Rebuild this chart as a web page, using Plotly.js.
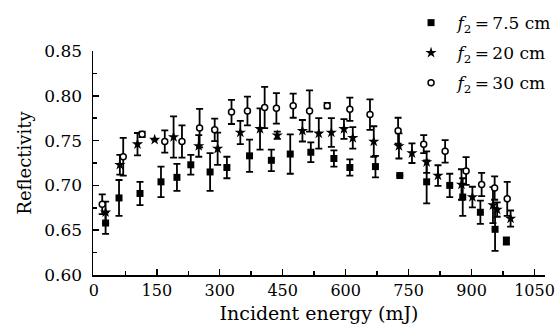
<!DOCTYPE html>
<html>
<head>
<meta charset="utf-8">
<script src="https://cdn.plot.ly/plotly-3.0.1.min.js"></script>
<style>html,body{margin:0;padding:0;background:#fff;}#chart{width:555px;height:333px;}</style>
</head>
<body>
<div id="chart"></div>
<script>
// Series 1: f2 = 7.5 cm (filled squares)
var energy75 = [28, 60, 110, 160, 198, 231, 277, 317, 371, 423, 468, 517, 572, 610, 671, 729, 793, 848, 879, 921, 956, 983];
var refl75   = [0.658, 0.686, 0.691, 0.704, 0.709, 0.723, 0.715, 0.720, 0.733, 0.728, 0.735, 0.737, 0.730, 0.720, 0.721, 0.711, 0.704, 0.700, 0.687, 0.670, 0.651, 0.638];
var err75    = [0.012, 0.020, 0.013, 0.017, 0.015, 0.011, 0.021, 0.012, 0.018, 0.012, 0.022, 0.011, 0.009, 0.009, 0.012, 0, 0.024, 0.013, 0.021, 0.013, 0.024, 0.004];

// Series 2: f2 = 20 cm (stars)
var energy20 = [28, 62, 104, 145, 190, 250, 295, 349, 396, 437, 497, 536, 566, 596, 617, 667, 727, 758, 793, 820, 876, 902, 951, 961, 993];
var refl20   = [0.670, 0.723, 0.746, 0.751, 0.754, 0.744, 0.741, 0.759, 0.763, 0.756, 0.761, 0.758, 0.759, 0.763, 0.753, 0.749, 0.744, 0.736, 0.726, 0.711, 0.701, 0.687, 0.678, 0.673, 0.663];
var err20    = [0.012, 0.011, 0.0125, 0, 0.023, 0.012, 0.018, 0.013, 0.023, 0.004, 0.012, 0.017, 0.016, 0.011, 0.012, 0.017, 0.014, 0.011, 0.012, 0.0115, 0.017, 0.0115, 0.02, 0.008, 0.009];

// Series 3: f2 = 30 cm (open circles)
var energy30 = [20, 70, 115, 169, 210, 252, 288, 328, 366, 407, 435, 475, 514, 556, 610, 658, 725, 786, 837, 887, 924, 955, 985];
var refl30   = [0.679, 0.732, 0.757, 0.749, 0.749, 0.764, 0.762, 0.782, 0.783, 0.787, 0.786, 0.789, 0.783, 0.789, 0.785, 0.779, 0.761, 0.746, 0.738, 0.716, 0.701, 0.697, 0.685];
var err30    = [0.011, 0.021, 0.003, 0.0125, 0.018, 0.0215, 0.0125, 0.0135, 0.016, 0.023, 0.017, 0.0135, 0.023, 0.003, 0.013, 0.017, 0.0145, 0.01, 0.0125, 0.0155, 0.013, 0.013, 0.019];

var seriesNames = ['\u2009<i>f</i><sub>2</sub>\u2009=\u20097.5 cm', '\u2009<i>f</i><sub>2</sub>\u2009=\u200920 cm', '\u2009<i>f</i><sub>2</sub>\u2009=\u200930 cm'];

var xTickVals = [0, 150, 300, 450, 600, 750, 900, 1050];
var yTickVals = [0.60, 0.65, 0.70, 0.75, 0.80, 0.85];

function errBar(arr) {
  return {type: 'data', array: arr, visible: true, color: '#000', thickness: 1.8, width: 3.5};
}

var traces = [
  {x: energy75, y: refl75, error_y: errBar(err75), type: 'scatter', mode: 'markers', name: seriesNames[0], legendgroup: 'a',
   marker: {symbol: 'square', size: 7, color: '#000'}},
  {x: energy20, y: refl20, error_y: errBar(err20), type: 'scatter', mode: 'markers', name: seriesNames[1], legendgroup: 'b',
   marker: {symbol: 'star', size: 8.5, color: '#000'}},
  {x: energy30, y: refl30, error_y: errBar(err30), type: 'scatter', mode: 'markers', name: seriesNames[2], legendgroup: 'c',
   marker: {symbol: 'circle', size: 6, color: '#fff', line: {color: '#000', width: 1.5}}}
];

var fontFam = 'DejaVu Serif, Liberation Serif, serif';

var layout = {
  width: 555, height: 333,
  margin: {l: 93, r: 10, t: 51, b: 58, autoexpand: false},
  paper_bgcolor: '#fff', plot_bgcolor: '#fff',
  font: {family: fontFam, size: 17, color: '#000'},
  showlegend: true,
  legend: {x: 0.697, y: 1.205, xanchor: 'left', yanchor: 'top', bgcolor: 'rgba(0,0,0,0)', borderwidth: 0,
           font: {family: fontFam, size: 17, color: '#000'}, tracegroupgap: 5, itemwidth: 36},
  xaxis: {
    range: [-2, 1075], showgrid: false, zeroline: false, showline: true, linecolor: '#000', linewidth: 1.5,
    tickmode: 'array', tickvals: xTickVals, ticks: 'inside', ticklen: 6, tickwidth: 1.5, tickcolor: '#000',
    ticklabeloverflow: 'allow',
    minor: {dtick: 75, tick0: 0, ticks: 'inside', ticklen: 4, tickwidth: 1.5, tickcolor: '#000'},
    tickfont: {family: fontFam, size: 16},
    title: {text: '\u00a0\u00a0\u00a0\u00a0\u00a0Incident energy (mJ)', font: {family: fontFam, size: 19}, standoff: 8}
  },
  yaxis: {
    range: [0.6, 0.85], showgrid: false, zeroline: false, showline: true, linecolor: '#000', linewidth: 1.5,
    tickmode: 'array', tickvals: yTickVals, ticktext: yTickVals.map(function(v){return v.toFixed(2);}),
    ticks: 'inside', ticklen: 6, tickwidth: 1.5, tickcolor: '#000', ticklabelstandoff: 6,
    minor: {dtick: 0.025, tick0: 0.6, ticks: 'inside', ticklen: 4, tickwidth: 1.5, tickcolor: '#000'},
    tickfont: {family: fontFam, size: 17},
    title: {text: 'Reflectivity', font: {family: fontFam, size: 18}, standoff: 8}
  }
};

Plotly.newPlot('chart', traces, layout, {displayModeBar: false, staticPlot: true});
</script>
</body>
</html>
